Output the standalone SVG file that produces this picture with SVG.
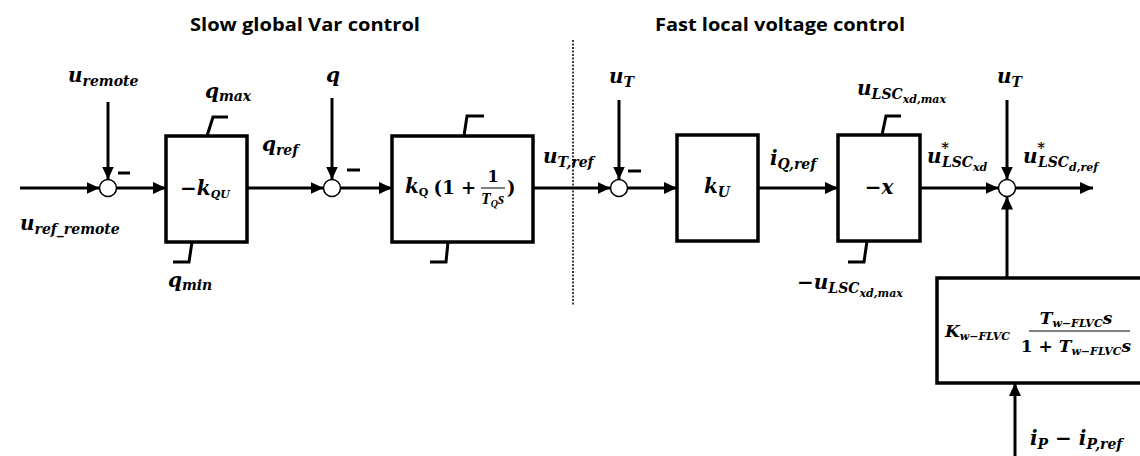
<svg xmlns="http://www.w3.org/2000/svg" width="1140" height="456" viewBox="0 0 1140 456">
<defs>
<marker id="ah" markerUnits="userSpaceOnUse" markerWidth="14" markerHeight="12" refX="13" refY="6" orient="auto">
<path d="M0,0 L13,6 L0,12 Z" fill="#000"/>
</marker>
<style>
.ln{stroke:#000;stroke-width:3;fill:none}
.ar{stroke:#000;stroke-width:3;fill:none;marker-end:url(#ah)}
.bx{stroke:#000;stroke-width:3.5;fill:#fff}
.sum{stroke:#000;stroke-width:1.5;fill:#fff}
.m{font-family:"DejaVu Serif",serif;font-weight:bold;font-style:italic;font-size:20px;fill:#000}
.s{font-size:14px}
.ss{font-size:11px}
.up{font-family:"DejaVu Serif",serif;font-weight:bold;font-style:normal;font-size:18px;fill:#000}
.t{font-family:"Open Sans","Liberation Sans",sans-serif;font-weight:bold;font-size:18px;fill:#000}
</style>
</defs>
<rect width="1140" height="456" fill="#fff"/>
<text class="t" x="190" y="31" textLength="230" lengthAdjust="spacingAndGlyphs">Slow global Var control</text>
<text class="t" x="655" y="31" textLength="250" lengthAdjust="spacingAndGlyphs">Fast local voltage control</text>
<line x1="573" y1="40" x2="573" y2="306" stroke="#000" stroke-width="1.5" stroke-dasharray="2,1.5"/>

<g id="connectors">
<line class="ar" x1="20" y1="188" x2="99.5" y2="188"/>
<line class="ar" x1="108" y1="102" x2="108" y2="179.5"/>
<line class="ar" x1="116.5" y1="188" x2="166" y2="188"/>
<line class="ar" x1="247" y1="188" x2="323.5" y2="188"/>
<line class="ar" x1="332" y1="98" x2="332" y2="179.5"/>
<line class="ar" x1="340.5" y1="188" x2="392" y2="188"/>
<line class="ar" x1="533" y1="188" x2="610.5" y2="188"/>
<line class="ar" x1="619" y1="100" x2="619" y2="179.5"/>
<line class="ar" x1="627.5" y1="188" x2="677" y2="188"/>
<line class="ar" x1="758" y1="188" x2="838" y2="188"/>
<line class="ar" x1="920" y1="188" x2="998.5" y2="188"/>
<line class="ar" x1="1007" y1="100" x2="1007" y2="179.5"/>
<line class="ar" x1="1015.5" y1="188" x2="1093" y2="188"/>
<line class="ar" x1="1007" y1="278" x2="1007" y2="196.5"/>
<line class="ar" x1="1015" y1="456" x2="1015" y2="383"/>
</g>

<g id="sum1">
<circle class="sum" cx="108" cy="188" r="8.5"/>
<line class="ln" x1="118" y1="173" x2="130" y2="173"/>
<text class="m" x="68" y="82">u<tspan class="s" dy="4">remote</tspan></text>
<text class="m" x="20" y="230">u<tspan class="s" dy="4">ref_remote</tspan></text>
</g>

<g id="block-kqu">
<rect class="bx" x="166" y="136" width="81" height="106"/>
<path class="ln" d="M207,136 L213,117 L228,117"/>
<path class="ln" d="M192,242 L189,262 L173,262"/>
<text class="m" x="205" y="195" text-anchor="middle"><tspan font-style="normal">−</tspan>k<tspan class="ss" dy="3">QU</tspan></text>
<text class="m" x="205" y="98">q<tspan class="s" dy="3">max</tspan></text>
<text class="m" x="168" y="287">q<tspan class="s" dy="3">min</tspan></text>
<text class="m" x="262" y="151">q<tspan class="s" dy="4">ref</tspan></text>
</g>

<g id="sum2">
<circle class="sum" cx="332" cy="188" r="8.5"/>
<line class="ln" x1="347" y1="170" x2="360" y2="170"/>
<text class="m" x="326" y="82">q</text>
</g>

<g id="block-pi">
<rect class="bx" x="392" y="136" width="141" height="106"/>
<path class="ln" d="M464,136 L467,116 L484,116"/>
<path class="ln" d="M448,242 L446,262 L430,262"/>
<text class="m" x="405" y="193">k<tspan class="ss" font-style="normal" dy="3">Q</tspan></text>
<text class="up" x="476" y="194" text-anchor="end" font-weight="normal">(1 +</text>
<text class="up" x="493" y="182" text-anchor="middle" style="font-size:16px">1</text>
<line x1="481" y1="188" x2="505" y2="188" stroke="#000" stroke-width="1"/>
<text x="481" y="204" font-family="Liberation Serif, serif" font-weight="bold" font-style="italic" font-size="16">T<tspan font-size="10" dy="3">Q</tspan><tspan dy="-3">s</tspan></text>
<text class="up" x="507" y="194" font-weight="normal">)</text>
<text class="m" x="543" y="163">u<tspan class="s" dy="4">T,ref</tspan></text>
</g>

<g id="sum3">
<circle class="sum" cx="619" cy="188" r="8.5"/>
<line class="ln" x1="628" y1="171" x2="641" y2="171"/>
<text class="m" x="609" y="83">u<tspan class="s" dy="4">T</tspan></text>
</g>

<g id="block-ku">
<rect class="bx" x="677" y="135" width="81" height="106"/>
<text class="m" x="717" y="193" text-anchor="middle">k<tspan class="s" dy="4">U</tspan></text>
<text class="m" x="770" y="165">i<tspan class="s" dy="4">Q,ref</tspan></text>
</g>

<g id="block-x">
<rect class="bx" x="838" y="135" width="82" height="106"/>
<path class="ln" d="M882,135 L886,116 L901,116"/>
<path class="ln" d="M867,241 L864,262 L848,262"/>
<text class="m" x="879" y="194" text-anchor="middle"><tspan font-style="normal">−</tspan>x</text>
<text class="m" x="857" y="95">u<tspan class="s" dy="4">LSC</tspan><tspan class="ss" dy="4">xd,max</tspan></text>
<text class="m" x="797" y="289"><tspan font-style="normal">−</tspan>u<tspan class="s" dy="4">LSC</tspan><tspan class="ss" dy="4">xd,max</tspan></text>
<text class="m" x="927" y="163">u<tspan class="s" dy="-10">*</tspan><tspan class="s" dx="-7" dy="14">LSC</tspan><tspan class="ss" dy="4">xd</tspan></text>
</g>

<g id="sum4">
<circle class="sum" cx="1007" cy="188" r="8.5"/>
<text class="m" x="997" y="83">u<tspan class="s" dy="4">T</tspan></text>
<text class="m" x="1023" y="163">u<tspan class="s" dy="-10">*</tspan><tspan class="s" dx="-7" dy="14">LSC</tspan><tspan class="ss" dy="4">d,ref</tspan></text>
</g>

<g id="block-flvc">
<rect class="bx" x="937" y="278" width="210" height="105"/>
<text class="m" x="945" y="337" style="font-size:17px">K<tspan font-size="11" dy="3">w−FLVC</tspan></text>
<text class="m" x="1076" y="324" style="font-size:17px" text-anchor="middle">T<tspan font-size="11" dy="3">w−FLVC</tspan><tspan dy="-3">s</tspan></text>
<line x1="1029" y1="331" x2="1130" y2="331" stroke="#000" stroke-width="1"/>
<text class="m" x="1076" y="352" style="font-size:17px" text-anchor="middle"><tspan font-style="normal">1 + </tspan>T<tspan font-size="11" dy="3">w−FLVC</tspan><tspan dy="-3">s</tspan></text>
<text class="m" x="1030" y="445">i<tspan class="s" dy="4">P</tspan><tspan font-style="normal" dy="-4"> − </tspan>i<tspan class="s" dy="4">P,ref</tspan></text>
</g>
</svg>
